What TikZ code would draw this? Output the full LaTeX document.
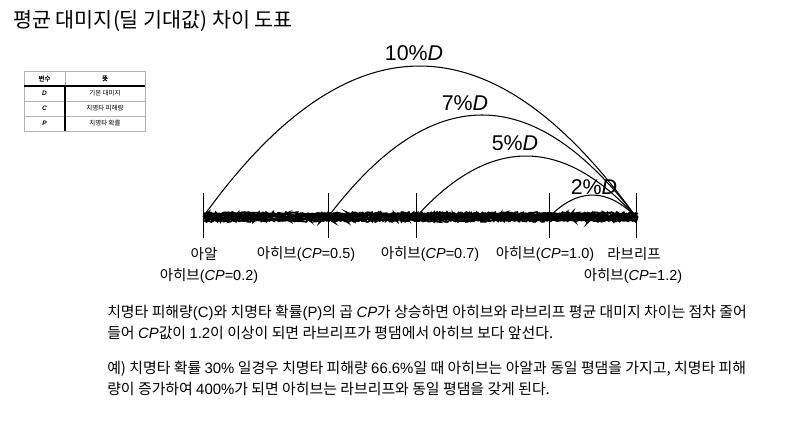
\documentclass[tikz,border=0pt]{standalone}
\usepackage{fontspec}
\setmainfont{Noto Sans CJK KR}[BoldFont={Noto Sans CJK KR},BoldFeatures={FakeBold=1.5}]
\newfontfamily\lat{Liberation Sans}
\usetikzlibrary{decorations.pathmorphing}

\newcommand{\cpv}{{\lat\itshape CP}}
\newcommand{\hib}[1]{아히브{\lat(\textit{CP}=#1)}}

\tikzset{
  tickline/.style={line width=0.7pt},
  arcline/.style={line width=0.75pt},
  rough/.style={line width=1.3pt,decorate,
    decoration={random steps,segment length=1pt,amplitude=0.9pt}},
  arclab/.style={font=\lat\fontsize{15.2}{18}\selectfont},
  ticklab/.style={font=\fontsize{10.3}{12}\selectfont},
  para/.style={anchor=west,inner sep=0pt,font=\fontsize{10.6}{12}\selectfont},
  tabtxt/.style={inner sep=0pt,font=\fontsize{4.6}{5.5}\selectfont},
  tabgrid/.style={draw=black!30,line width=0.4pt},
  tabdark/.style={draw=black,line width=0.8pt},
}

\begin{document}
\begin{tikzpicture}[x=0.025cm,y=-0.025cm]
  \useasboundingbox (0,0) rectangle (800,434);

  \node[anchor=west,inner sep=0pt,font=\fontsize{14.7}{17}\selectfont] (title) at (13,21)
    {평균 대미지(딜 기대값) 차이 도표};

  % variable table
  \draw[tabgrid] (24,71) rectangle (145,131);
  \draw[tabgrid] (24,101) -- (145,101) (24,116) -- (145,116) (65,71) -- (65,86);
  \draw[tabdark] (24,86) -- (145,86) (65,86) -- (65,131);
  \node[tabtxt] (thv) at (44.5,78.5) {\bfseries 변수};
  \node[tabtxt] (thm) at (105,78.5) {\bfseries 뜻};
  \node[tabtxt] (tvd) at (44.5,93.5) {\lat\bfseries\itshape D};
  \node[tabtxt] (tmd) at (105,93.5) {기본 대미지};
  \node[tabtxt] (tvc) at (44.5,108.5) {\lat\bfseries\itshape C};
  \node[tabtxt] (tmc) at (105,108.5) {치명타 피해량};
  \node[tabtxt] (tvp) at (44.5,123.5) {\lat\bfseries\itshape P};
  \node[tabtxt] (tmp) at (105,123.5) {치명타 확률};

  % positions on the damage line
  \coordinate (aal) at (203,217);
  \coordinate (h05) at (328,217);
  \coordinate (h07) at (416,217);
  \coordinate (h10) at (549,217);
  \coordinate (rib) at (636,217);

  % rough damage line
  \foreach \dy in {-2.6,-1.9,-1.2,-0.6,0,0.6,1.2,1.9,2.6}
    \draw[rough] ([xshift=1pt,yshift=\dy pt]aal) -- ([xshift=1pt,yshift=\dy pt]rib);
  \foreach \p in {aal,h05,h07,h10,rib}
    \draw[tickline] ([yshift=17pt]\p) -- ([yshift=-15pt]\p);

  % arcs to Labrif
  \draw[arcline] (aal) .. controls +(144.3,-201.3) and +(-144.3,-201.3) .. (rib);
  \draw[arcline] (h05) .. controls +(102.7,-136) and +(-102.7,-136) .. (rib);
  \draw[arcline] (h07) .. controls +(73.3,-81.3) and +(-73.3,-81.3) .. (rib);
  \draw[arcline] (h10) .. controls +(29,-29.3) and +(-29,-29.3) .. (rib);
  \node[arclab] (d10) at (414,53) {10\%\textit{D}};
  \node[arclab] (d7) at (465,103) {7\%\textit{D}};
  \node[arclab] (d5) at (515,143) {5\%\textit{D}};
  \node[arclab] (d2) at (594,187) {2\%\textit{D}};

  \node[ticklab] (laal) at (204,254) {아알};
  \node[ticklab] (l02) at (209,276) {\hib{0.2}};
  \node[ticklab] (l05) at (306,254) {\hib{0.5}};
  \node[ticklab] (l07) at (430,254) {\hib{0.7}};
  \node[ticklab] (l10) at (545,254) {\hib{1.0}};
  \node[ticklab] (lrib) at (634,254) {라브리프};
  \node[ticklab] (l12) at (633,276) {\hib{1.2}};

  \node[para] (p1) at (107,313) {치명타 피해량{\lat(C)}와 치명타 확률{\lat(P)}의 곱 \cpv{}가 상승하면 아히브와 라브리프 평균 대미지 차이는 점차 줄어};
  \node[para] (p2) at (107,333) {들어 \cpv{}값이 {\lat 1.2}이 이상이 되면 라브리프가 평댐에서 아히브 보다 앞선다.};
  \node[para] (p3) at (107,369) {예) 치명타 확률 {\lat 30\%} 일경우 치명타 피해량 {\lat 66.6\%}일 때 아히브는 아알과 동일 평댐을 가지고, 치명타 피해};
  \node[para] (p4) at (107,389) {량이 증가하여 {\lat 400\%}가 되면 아히브는 라브리프와 동일 평댐을 갖게 된다.};
\end{tikzpicture}
\end{document}
